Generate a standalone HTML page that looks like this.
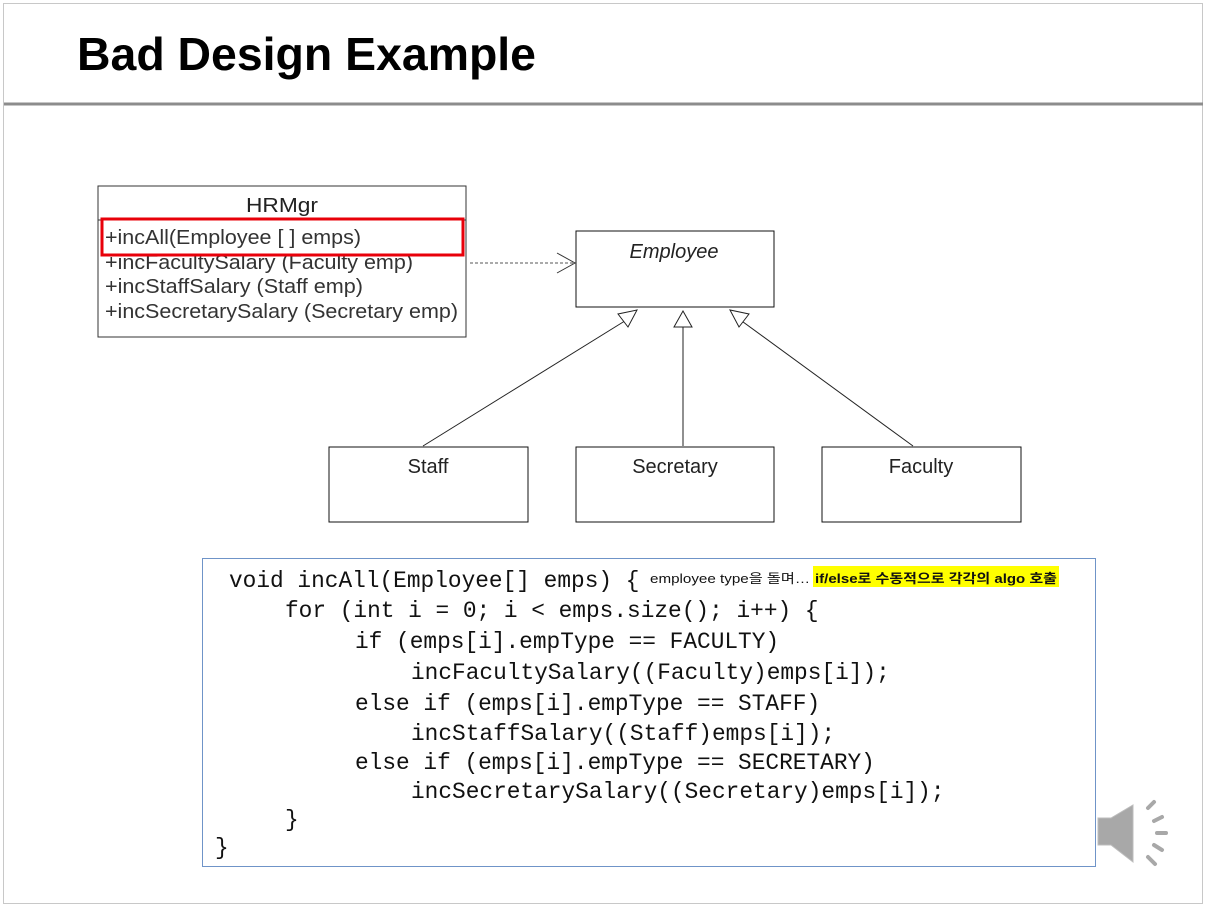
<!DOCTYPE html>
<html><head><meta charset="utf-8"><style>
body{margin:0;background:#fff;}
svg{display:block}
</style></head><body>
<svg width="1206" height="907" xmlns="http://www.w3.org/2000/svg" font-family="Liberation Sans, sans-serif">
<rect x="3.5" y="3.5" width="1199" height="900" fill="#fff" stroke="#c8c8c8"/>
<line x1="4" y1="104" x2="1203" y2="104" stroke="#8c8c8c" stroke-width="3"/>
<text x="77" y="70" font-size="46" font-weight="bold" fill="#000" textLength="459" lengthAdjust="spacingAndGlyphs">Bad Design Example</text>
<!-- HRMgr -->
<rect x="98" y="186" width="368" height="151" fill="#fff" stroke="#333"/>
<line x1="98" y1="220" x2="466" y2="220" stroke="#333"/>
<text x="282" y="212" font-size="20" text-anchor="middle" fill="#222" textLength="72" lengthAdjust="spacingAndGlyphs">HRMgr</text>
<g font-size="20" fill="#333">
<text x="105" y="244" textLength="256" lengthAdjust="spacingAndGlyphs">+incAll(Employee [ ] emps)</text>
<text x="105" y="269" textLength="308" lengthAdjust="spacingAndGlyphs">+incFacultySalary (Faculty emp)</text>
<text x="105" y="293" textLength="258" lengthAdjust="spacingAndGlyphs">+incStaffSalary (Staff emp)</text>
<text x="105" y="318" textLength="353" lengthAdjust="spacingAndGlyphs">+incSecretarySalary (Secretary emp)</text>
</g>
<rect x="102" y="219" width="361" height="36" fill="none" stroke="#e8000a" stroke-width="3"/>
<!-- dependency -->
<line x1="470" y1="263" x2="575" y2="263" stroke="#555" stroke-dasharray="3,2"/>
<polyline points="557,253 575,263 557,273" fill="none" stroke="#333"/>
<!-- Employee -->
<rect x="576" y="231" width="198" height="76" fill="#fff" stroke="#111"/>
<text x="674" y="258" font-size="20" font-style="italic" text-anchor="middle" fill="#222">Employee</text>
<!-- subclasses -->
<rect x="329" y="447" width="199" height="75" fill="#fff" stroke="#111"/>
<text x="428" y="473" font-size="20" text-anchor="middle" fill="#222">Staff</text>
<rect x="576" y="447" width="198" height="75" fill="#fff" stroke="#111"/>
<text x="675" y="473" font-size="20" text-anchor="middle" fill="#222">Secretary</text>
<rect x="822" y="447" width="199" height="75" fill="#fff" stroke="#111"/>
<text x="921" y="473" font-size="20" text-anchor="middle" fill="#222">Faculty</text>
<!-- inheritance -->
<g stroke="#222" fill="#fff">
<line x1="423" y1="446" x2="628" y2="319"/>
<line x1="683" y1="446" x2="683" y2="327"/>
<line x1="913" y1="446" x2="739" y2="319"/>
<polygon points="637,310 618,314 628,327"/>
<polygon points="683,311 674,327 692,327"/>
<polygon points="730,310 739,327 749,314"/>
</g>
<!-- code box -->
<rect x="202.5" y="558.5" width="893" height="308" fill="#fff" stroke="#6f94c8"/>
<rect x="813" y="566" width="246" height="21" fill="#ffff00"/>
<g font-family="Liberation Mono, DejaVu Sans Mono, monospace" font-size="22.8" fill="#111">
<text x="229" y="587">void incAll(Employee[] emps) {</text>
<text x="285" y="617">for (int i = 0; i &lt; emps.size(); i++) {</text>
<text x="355" y="648">if (emps[i].empType == FACULTY)</text>
<text x="411" y="679">incFacultySalary((Faculty)emps[i]);</text>
<text x="355" y="710">else if (emps[i].empType == STAFF)</text>
<text x="411" y="740">incStaffSalary((Staff)emps[i]);</text>
<text x="355" y="769">else if (emps[i].empType == SECRETARY)</text>
<text x="411" y="798">incSecretarySalary((Secretary)emps[i]);</text>
<text x="285" y="826">}</text>
<text x="215" y="854">}</text>
</g>
<text x="650" y="583" font-size="13" fill="#111" font-family="Liberation Sans, Noto Sans CJK KR, sans-serif" textLength="160" lengthAdjust="spacingAndGlyphs">employee type을 돌며…</text>
<text x="815" y="583" font-size="13" font-weight="bold" fill="#111" font-family="Liberation Sans, Noto Sans CJK KR, sans-serif" textLength="242" lengthAdjust="spacingAndGlyphs">if/else로 수동적으로 각각의 algo 호출</text>
<!-- speaker -->
<g fill="#a8a8a8" stroke="#bdbdbd">
<polygon points="1098,818 1111,818 1133,805 1133,862 1111,845 1098,845"/>
</g>
<g stroke="#a8a8a8" stroke-width="4" stroke-linecap="round">
<line x1="1148" y1="808" x2="1154" y2="802"/>
<line x1="1154" y1="821" x2="1162" y2="817"/>
<line x1="1157" y1="833" x2="1166" y2="833"/>
<line x1="1154" y1="845" x2="1162" y2="850"/>
<line x1="1148" y1="857" x2="1155" y2="864"/>
</g>
</svg>
</body></html>
